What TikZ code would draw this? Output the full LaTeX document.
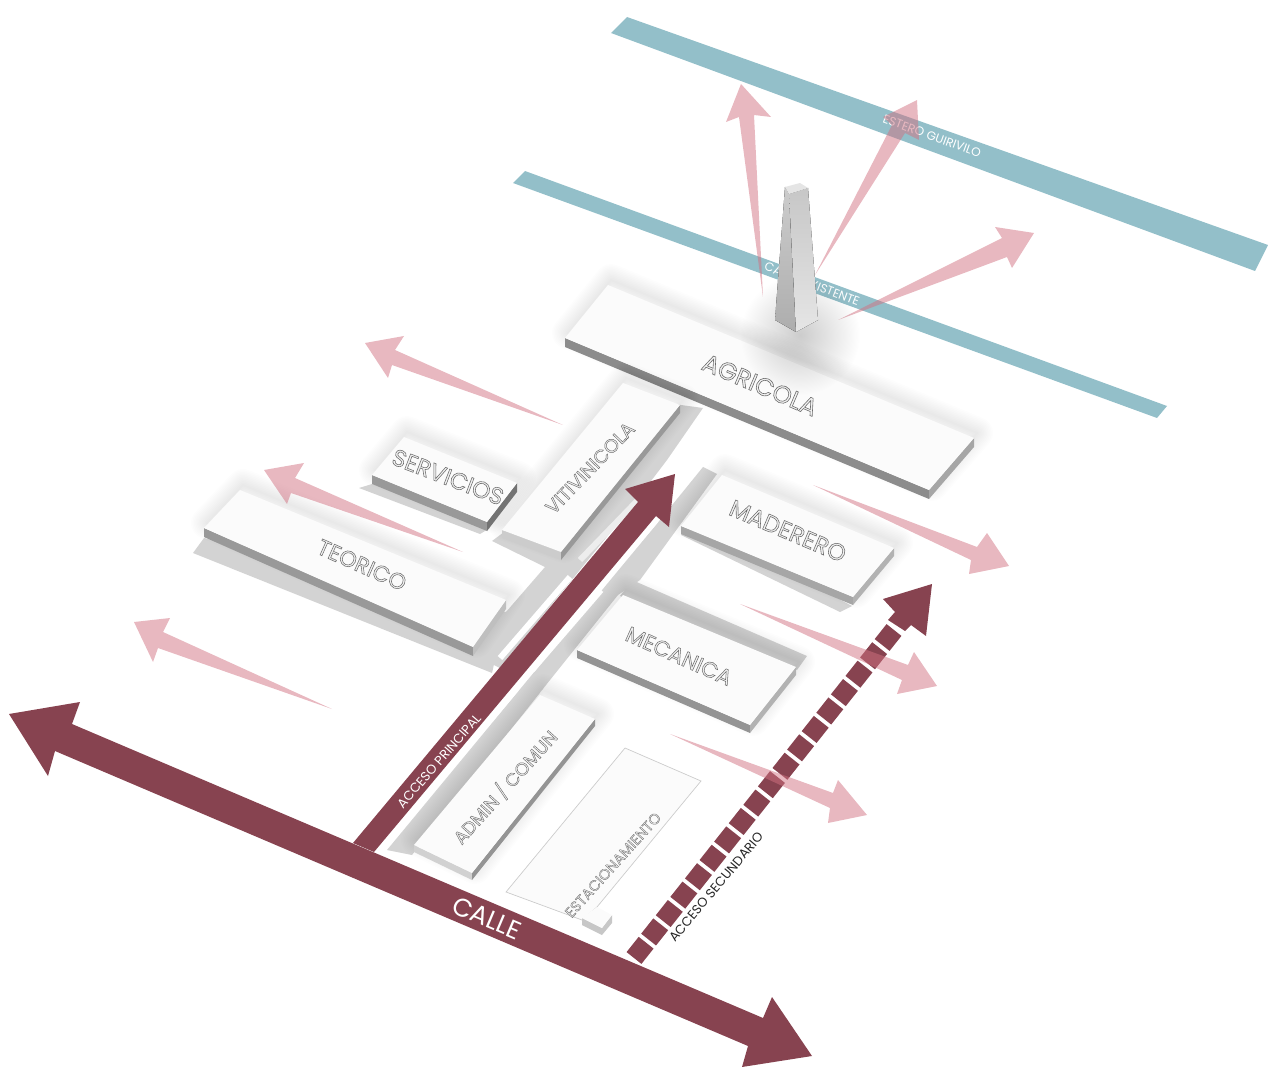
\documentclass[tikz,border=0pt]{standalone}
\usepackage{fontspec}
\setmainfont{Poppins}
\newfontfamily\relievefont{Poppins}[RawFeature={embolden=2.4}]
\usepackage{tikz}
\usetikzlibrary{calc,fadings}

\definecolor{calle}{HTML}{874350}
\definecolor{agua}{HTML}{93BFC9}
\definecolor{rosa}{HTML}{D17181}
\definecolor{suelo}{HTML}{D3D3D3}
\definecolor{techo}{HTML}{FBFBFB}

\tikzfading[name=halo,inner color=transparent!0,outer color=transparent!100]

\tikzset{
    vial/.style={fill=calle},
    canal/.style={fill=agua},
    vista/.style={fill=rosa,opacity=.5},
    sombra/.style={fill=suelo},
    franja/.style={white,line width=.12cm},
    rotulo/.style={inner sep=0pt,font=\fontsize{#1}{#1}\selectfont},
    rotulo/.default=6
}

% texto en relieve de los volumenes: relleno claro con contorno gris
\newcommand{\relieve}[1]{{\relievefont\color{black!5}\special{pdf:code 0.42 G}#1}}

% volumen: cuatro esquinas del techo, altura y color de las dos caras
\newcommand{\bloque}[7]{
    \foreach \w in {2,5,...,32}
        \draw[black,opacity=.009,line width=\w*.02cm,line join=round,shift={(3,-5)}] (#1)--(#2)--(#3)--(#4)--cycle;
    \fill[#6] (#4)--(#3)--++(0,#5)--($(#4)+(0,#5)$)--cycle;
    \fill[#7] (#3)--(#2)--++(0,#5)--($(#3)+(0,#5)$)--cycle;
    \fill[techo] (#1)--(#2)--(#3)--(#4)--cycle;
}

\begin{document}
\begin{tikzpicture}[x=.02cm,y=-.02cm]
    \useasboundingbox (0,0) rectangle (1268,1067);

    % canales
    \fill[canal] (627,17)--(1268,245)--(1255,271)--(611,33)--cycle;
    \fill[canal] (525,171)--(1167,406)--(1157,418)--(513,183)--cycle;
    \node[rotulo=6.9,white,rotate=-20] (estero) at (932,136) {ESTERO GUIRIVILO};
    \node[rotulo=6.9,white,rotate=-21] (existente) at (812,284) {CANAL EXISTENTE};

    % calles interiores
    \fill[sombra] (681,405)--(703,408)--(667,460)--(632,506)--(500,668)--(473,655)--(506,612)--(545,567)--(492,541)--(520,520)--(640,400)--cycle;
    \fill[sombra] (703,467)--(717,474)--(640,580)--(618,595)--(550,680)--(412,855)--(387,850)--(660,520)--cycle;
    \fill[sombra] (632,580)--(807,656)--(797,670)--(620,596)--cycle;

    % sombras sobre el suelo
    \fill[sombra] (204,538)--(193,553)--(492,673)--(506,612)--cycle;
    \fill[sombra] (372,484)--(359,488)--(480,534)--(490,528)--cycle;
    \fill[sombra] (681,535)--(840,612)--(852,606)--(690,520)--cycle;

    % franjas junto al acceso
    \draw[franja] (378,852)--(516,689);
    \draw[franja] (532,670)--(601,590);
    \draw[franja] (611,573)--(656,520);
    \draw[franja] (500,658)--(570,577);
    \draw[franja,black!7] (580,560)--(638,500);

    % volumenes
    \bloque{608,285}{974,438}{929,490}{565,338}{9}{black!45}{black!35}
    \bloque{623,383}{680,405}{561,552}{502,530}{8}{black!20}{black!40}
    \bloque{404,437}{517,483}{487,522}{372,475}{9}{black!40}{black!55}
    \bloque{240,490}{506,600}{473,647}{204,528}{9}{black!40}{black!25}
    \bloque{722,475}{894,548}{853,597}{681,526}{8}{black!35}{black!30}
    \bloque{623,595}{796,667}{750,725}{577,650}{8}{black!42}{black!30}
    \bloque{540,695}{595,719}{472,873}{414,845}{7}{black!18}{black!42}

    % estacionamiento
    \draw[black!20,fill=techo] (625,748)--(701,781)--(597,907)--(582,920)--(506,892)--cycle;
    \fill[black!22] (582,918)--(602,928)--(612,915)--(612,923)--(602,935)--(582,925)--cycle;
    \fill[techo] (582,918)--(597,907)--(612,915)--(602,928)--cycle;

    % nombres
    \node[rotulo=14,rotate=-23] (agricola) at (760,385) {\relieve{AGRICOLA}};
    \node[rotulo=13.3,rotate=-21] (servicios) at (448,477) {\relieve{SERVICIOS}};
    \node[rotulo=10.8,rotate=46] (viti) at (590,468) {\relieve{VITIVINICOLA}};
    \node[rotulo=12.7,rotate=-24] (teorico) at (362,565) {\relieve{TEORICO}};
    \node[rotulo=12.4,rotate=-24] (mecanica) at (679,656) {\relieve{MECANICA}};
    \node[rotulo=13.4,rotate=-23] (maderero) at (788,531) {\relieve{MADERERO}};
    \node[rotulo=10.3,rotate=48] (admin) at (505,787) {\relieve{ADMIN / COMUN}};
    \node[rotulo=8.4,rotate=48] (estac) at (613,865) {\relieve{ESTACIONAMIENTO}};

    % acceso secundario
    \draw[calle,line width=.38cm,dash pattern=on .39cm off .08cm] (634,958)--(894,630);
    \fill[vial] (932,584)--(926,636)--(911,625)--(905,631)--(888,620)--(895,612)--(883,599)--cycle;

    % acceso principal
    \fill[vial] (353,843)--(638,502)--(625,489)--(675,474)--(669,527)--(656,516)--(374,852)--cycle;

    % calle con punta en ambos extremos
    \fill[vial] (9,714)--(80,702)--(72,724)--(763,1018)--(772,997)--(812,1056)--(742,1067)--(748,1046)--(55,751)--(48,776)--cycle;
    \node[rotulo=14.5,white,rotate=-23] (calle) at (487,918) {CALLE};
    \node[rotulo=7.4,white,rotate=49] (principal) at (439,761) {ACCESO PRINCIPAL};
    \node[rotulo=7.4,black!85,rotate=50] (secundario) at (716,887) {ACCESO SECUNDARIO};

    % visuales
    \fill[vista] (763,297)--(754,115)--(771,117)--(741,84)--(726,122)--(739,117)--cycle;
    \fill[vista] (815,275)--(905,133)--(919,140)--(917,100)--(883,117)--(892,125)--cycle;
    \fill[vista] (838,320)--(1007,257)--(1012,268)--(1034,233)--(995,227)--(1002,238)--cycle;
    \fill[vista] (563,425)--(395,350)--(404,336)--(365,343)--(388,378)--(392,365)--cycle;
    \fill[vista] (463,552)--(295,478)--(304,463)--(264,470)--(287,504)--(291,493)--cycle;
    \fill[vista] (332,709)--(163,632)--(170,618)--(134,622)--(153,662)--(158,648)--cycle;
    \fill[vista] (813,485)--(977,547)--(987,533)--(1009,566)--(969,574)--(971,560)--cycle;
    \fill[vista] (740,604)--(908,665)--(914,652)--(937,686)--(897,694)--(902,680)--cycle;
    \fill[vista] (670,734)--(833,793)--(838,780)--(867,815)--(828,823)--(830,808)--cycle;

    % torre
    \fill[black,opacity=.2,path fading=halo] (800,335) circle (60);
    \fill[top color=black!20,bottom color=black!32] (785,187)--(789,194)--(796,332)--(775,320)--cycle;
    \fill[top color=black!22,bottom color=black!10] (789,194)--(808,188)--(818,320)--(796,332)--cycle;
    \fill[black!10] (785,187)--(800,183)--(808,188)--(789,194)--cycle;

\end{tikzpicture}
\end{document}
